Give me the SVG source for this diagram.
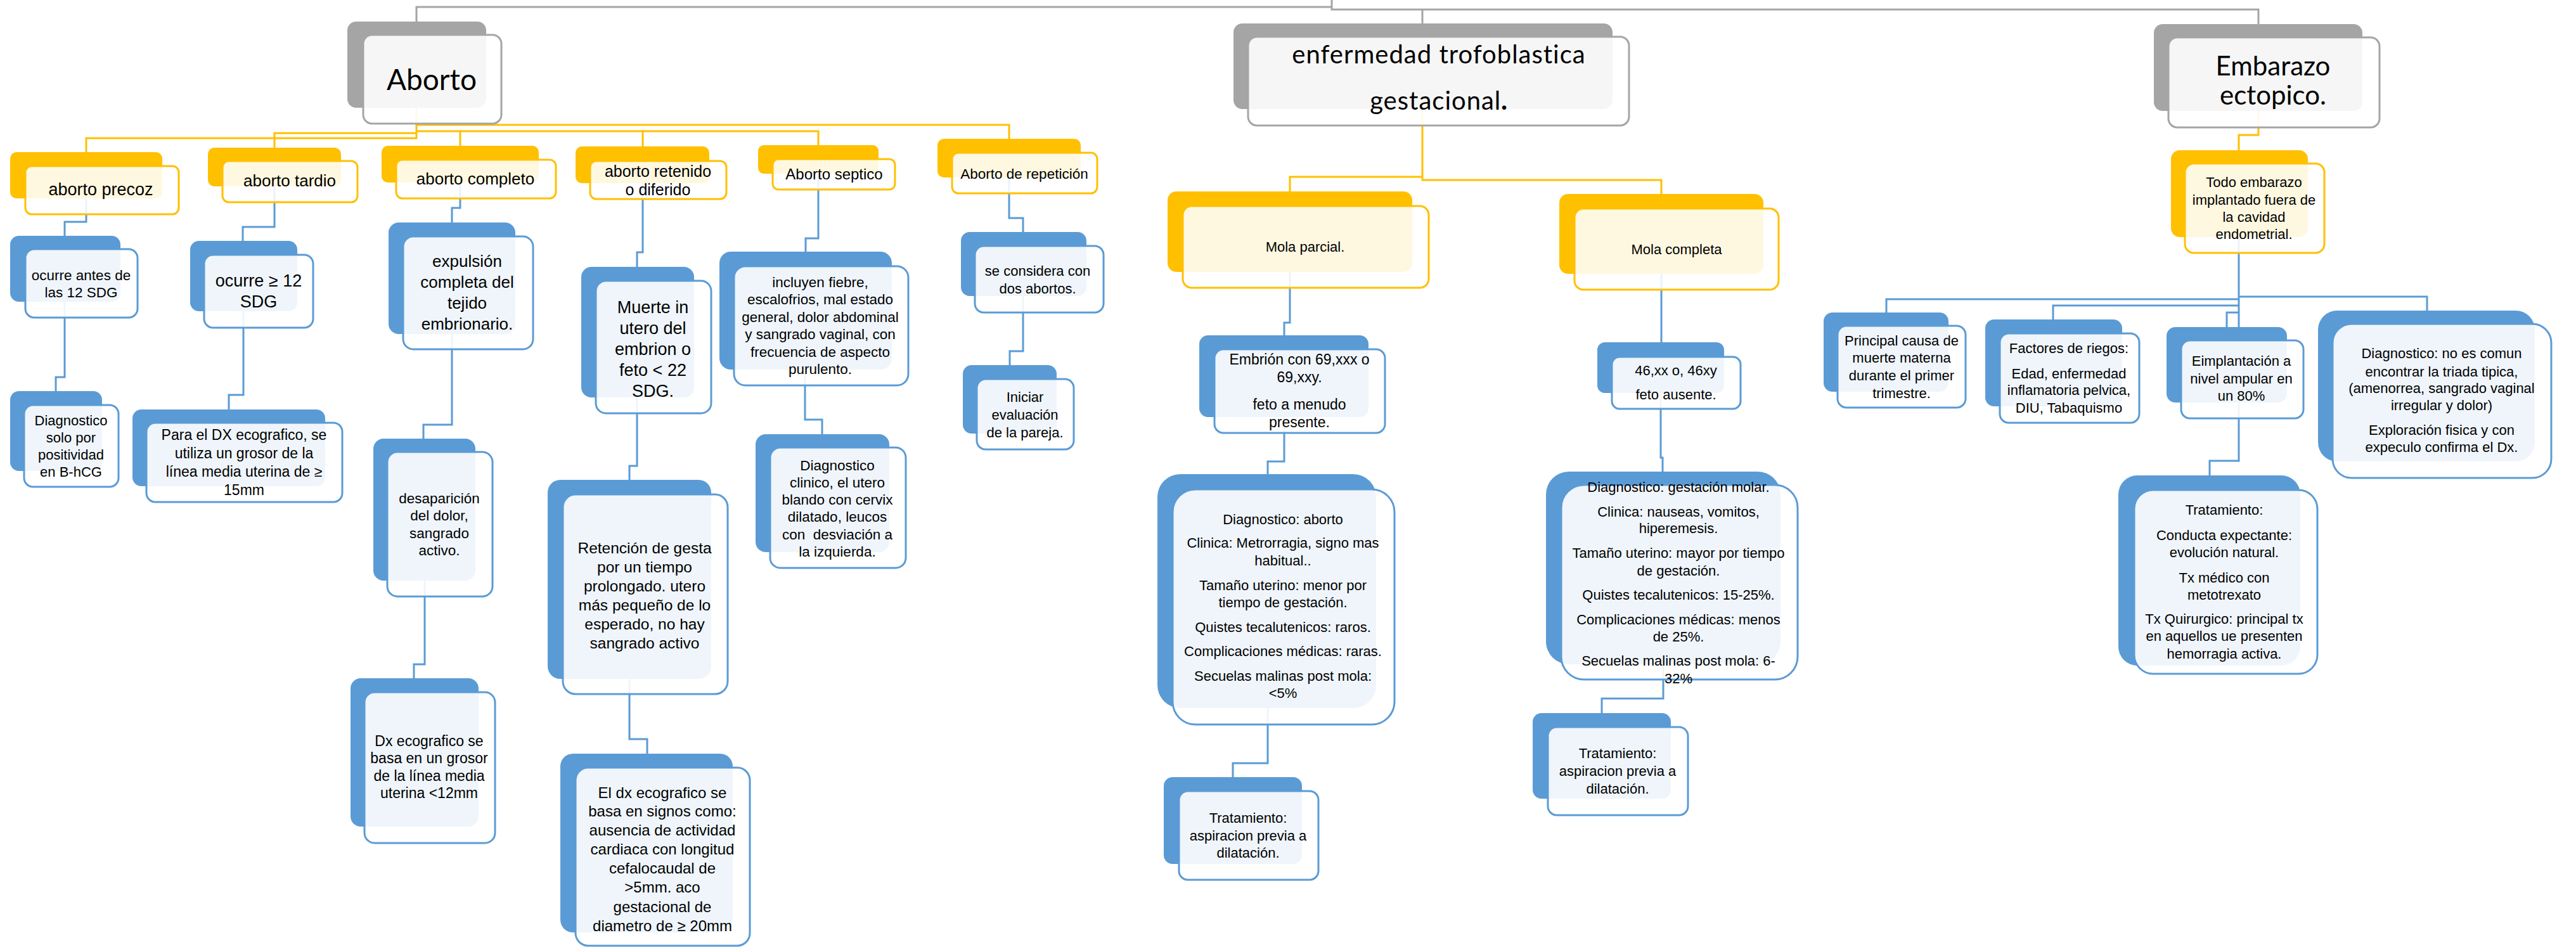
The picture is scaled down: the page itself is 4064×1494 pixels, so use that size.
<svg xmlns="http://www.w3.org/2000/svg" width="4064" height="1494" viewBox="0 0 4064 1494" font-size="22">
<style>
.gb{fill:#A5A5A5}
.gf{fill:#fff;fill-opacity:.9;stroke:#A5A5A5;stroke-width:3}
.yb{fill:#FFC000}
.yf{fill:#fff;fill-opacity:.88;stroke:#FFC000;stroke-width:3}
.bb{fill:#5B9BD5}
.bf{fill:#fff;fill-opacity:.9;stroke:#5B9BD5;stroke-width:3}
.c{fill:none;stroke-width:3}
.cg{stroke:#A5A5A5}
.cy{stroke:#FFC000}
.cb{stroke:#5B9BD5}
text{font-family:"Liberation Sans",Arial,sans-serif;text-anchor:middle;fill:#000}
.ti{font-family:Lato,"Open Sans",sans-serif}
</style>
<rect width="4064" height="1494" fill="#fff"/>
<g id="connectors">
<g class="c cg">
<path d="M2101,0 V15 H3563 V38"/>
<path d="M2244,15 V37"/>
<path d="M2101,11 H657 V34"/>
</g>
<g class="c cy">
<path d="M657,170 V218 H136 V240"/>
<path d="M657,210 H433 V233"/>
<path d="M657,207 H726 V230"/>
<path d="M726,207 H1014 V231"/>
<path d="M1014,207 H1291 V229"/>
<path d="M657,197 H1592 V219"/>
<path d="M2244,172 V284 H2621 V306"/>
<path d="M2244,279 H2035 V302"/>
<path d="M3563,175 V213 H3532 V237"/>
</g>
<g class="c cb">
<path d="M136,313 V350 H102 V372"/>
<path d="M102,476 V595 H88 V617"/>
<path d="M433,294 V358 H383 V380"/>
<path d="M384,491 V623 H361 V646"/>
<path d="M726,288 V328 H713 V351"/>
<path d="M713,527 V670 H668 V692"/>
<path d="M670,916 V1048 H653 V1070"/>
<path d="M1014,289 V398 H1005 V421"/>
<path d="M1005,627 V735 H993 V757"/>
<path d="M993,1071 V1166 H1021 V1189"/>
<path d="M1291,274 V376 H1271 V397"/>
<path d="M1270,583 V662 H1297 V685"/>
<path d="M1592,280 V344 H1614 V366"/>
<path d="M1614,467 V554 H1593 V576"/>
<path d="M2035,429 V509 H2026 V529"/>
<path d="M2026,658 V728 H2000 V748"/>
<path d="M2000,1117 V1204 H1945 V1226"/>
<path d="M2621,432 V540"/>
<path d="M2620,620 V722 H2623 V744"/>
<path d="M2624,1048 V1102 H2527 V1125"/>
<path d="M3532,374 V516"/>
<path d="M3532,472 H2976 V493"/>
<path d="M3532,482 H3239 V504"/>
<path d="M3532,493 H3513 V516"/>
<path d="M3532,468 H3829 V490"/>
<path d="M3532,635 V727 H3486 V750"/>
</g>
</g>

<g id="aborto">
<rect class="gb" x="548" y="34" width="219" height="136" rx="14"/>
<rect class="gf" x="573" y="55" width="218" height="140" rx="14"/>
<text class="ti" x="681" y="142" font-size="46">Aborto</text>
</g>
<g id="enfermedad">
<rect class="gb" x="1946" y="37" width="598" height="135" rx="14"/>
<rect class="gf" x="1969" y="58" width="601" height="140" rx="14"/>
<text class="ti" x="2270" y="100" font-size="40" letter-spacing="1">enfermedad trofoblastica</text>
<text class="ti" x="2270" y="173" font-size="40" letter-spacing="1">gestacional<tspan font-weight="900">.</tspan></text>
</g>
<g id="embarazo">
<rect class="gb" x="3398" y="38" width="329" height="137" rx="14"/>
<rect class="gf" x="3421" y="59" width="333" height="142" rx="14"/>
<text class="ti" x="3586" y="119" font-size="42">Embarazo</text>
<text class="ti" x="3586" y="165" font-size="42">ectopico.</text>
</g>

<g id="precoz">
<rect class="yb" x="16" y="240" width="240" height="73" rx="10"/>
<rect class="yf" x="40" y="262" width="242" height="76" rx="10"/>
<text x="159" y="308" font-size="27">aborto precoz</text>
</g>
<g id="tardio">
<rect class="yb" x="328" y="233" width="210" height="61" rx="10"/>
<rect class="yf" x="351" y="254" width="213" height="65" rx="10"/>
<text x="457" y="294" font-size="26">aborto tardio</text>
</g>
<g id="completo">
<rect class="yb" x="602" y="230" width="248" height="58" rx="10"/>
<rect class="yf" x="625" y="252" width="252" height="61" rx="10"/>
<text x="750" y="291" font-size="26">aborto completo</text>
</g>
<g id="retenido">
<rect class="yb" x="908" y="231" width="211" height="58" rx="10"/>
<rect class="yf" x="931" y="254" width="215" height="60" rx="10"/>
<text x="1038" y="279" font-size="25">aborto retenido</text>
<text x="1038" y="308" font-size="25">o diferido</text>
</g>
<g id="septico">
<rect class="yb" x="1196" y="229" width="190" height="45" rx="9"/>
<rect class="yf" x="1219" y="251" width="193" height="48" rx="9"/>
<text x="1316" y="283" font-size="24">Aborto septico</text>
</g>
<g id="repeticion">
<rect class="yb" x="1479" y="219" width="226" height="61" rx="10"/>
<rect class="yf" x="1502" y="241" width="229" height="64" rx="10"/>
<text x="1616" y="282" font-size="22.5">Aborto de repetición</text>
</g>
<g id="mola-parcial">
<rect class="yb" x="1842" y="302" width="386" height="127" rx="14"/>
<rect class="yf" x="1866" y="325" width="388" height="129" rx="14"/>
<text x="2059" y="397">Mola parcial.</text>
</g>
<g id="mola-completa">
<rect class="yb" x="2460" y="306" width="322" height="126" rx="14"/>
<rect class="yf" x="2484" y="329" width="322" height="128" rx="14"/>
<text x="2645" y="401">Mola completa</text>
</g>
<g id="todo-embarazo">
<rect class="yb" x="3425" y="237" width="216" height="137" rx="14"/>
<rect class="yf" x="3447" y="258" width="220" height="141" rx="14"/>
<text x="3556" y="295">Todo embarazo</text>
<text x="3556" y="323">implantado fuera de</text>
<text x="3556" y="350">la cavidad</text>
<text x="3556" y="377">endometrial.</text>
</g>

<g id="ocurre-antes">
<rect class="bb" x="16" y="372" width="174" height="104" rx="14"/>
<rect class="bf" x="40" y="393" width="177" height="108" rx="14"/>
<text x="128" y="442" font-size="22.5">ocurre antes de</text>
<text x="128" y="469" font-size="22.5">las 12 SDG</text>
</g>
<g id="diag-solo">
<rect class="bb" x="16" y="617" width="145" height="126" rx="14"/>
<rect class="bf" x="38" y="639" width="149" height="129" rx="14"/>
<text x="112" y="671">Diagnostico</text>
<text x="112" y="698">solo por</text>
<text x="112" y="725">positividad</text>
<text x="112" y="752">en B-hCG</text>
</g>
<g id="ocurre-12">
<rect class="bb" x="300" y="380" width="169" height="111" rx="14"/>
<rect class="bf" x="322" y="402" width="172" height="115" rx="14"/>
<text x="408" y="452" font-size="27">ocurre ≥ 12</text>
<text x="408" y="485" font-size="27">SDG</text>
</g>
<g id="para-dx">
<rect class="bb" x="209" y="646" width="304" height="121" rx="14"/>
<rect class="bf" x="231" y="667" width="309" height="125" rx="14"/>
<text x="385" y="694" font-size="23">Para el DX ecografico, se</text>
<text x="385" y="723" font-size="23">utiliza un grosor de la</text>
<text x="385" y="752" font-size="23">línea media uterina de ≥</text>
<text x="385" y="781" font-size="23">15mm</text>
</g>
<g id="expulsion">
<rect class="bb" x="613" y="351" width="200" height="176" rx="16"/>
<rect class="bf" x="636" y="373" width="205" height="178" rx="16"/>
<text x="737" y="421" font-size="26">expulsión</text>
<text x="737" y="454" font-size="26">completa del</text>
<text x="737" y="487" font-size="26">tejido</text>
<text x="737" y="520" font-size="26">embrionario.</text>
</g>
<g id="desaparicion">
<rect class="bb" x="589" y="692" width="161" height="224" rx="16"/>
<rect class="bf" x="611" y="713" width="166" height="228" rx="16"/>
<text x="693" y="794" font-size="22.5">desaparición</text>
<text x="693" y="821" font-size="22.5">del dolor,</text>
<text x="693" y="849" font-size="22.5">sangrado</text>
<text x="693" y="876" font-size="22.5">activo.</text>
</g>
<g id="dx-ecografico">
<rect class="bb" x="553" y="1070" width="202" height="234" rx="16"/>
<rect class="bf" x="575" y="1092" width="206" height="238" rx="16"/>
<text x="677" y="1177" font-size="23">Dx ecografico se</text>
<text x="677" y="1204" font-size="23">basa en un grosor</text>
<text x="677" y="1232" font-size="23">de la línea media</text>
<text x="677" y="1259" font-size="23">uterina &lt;12mm</text>
</g>
<g id="muerte">
<rect class="bb" x="917" y="421" width="178" height="206" rx="16"/>
<rect class="bf" x="940" y="443" width="182" height="209" rx="16"/>
<text x="1030" y="494" font-size="27">Muerte in</text>
<text x="1030" y="527" font-size="27">utero del</text>
<text x="1030" y="560" font-size="27">embrion o</text>
<text x="1030" y="593" font-size="27">feto &lt; 22</text>
<text x="1030" y="626" font-size="27">SDG.</text>
</g>
<g id="retencion">
<rect class="bb" x="864" y="757" width="258" height="314" rx="20"/>
<rect class="bf" x="888" y="780" width="260" height="315" rx="20"/>
<text x="1017" y="873" font-size="24.5">Retención de gesta</text>
<text x="1017" y="903" font-size="24.5">por un tiempo</text>
<text x="1017" y="933" font-size="24.5">prolongado. utero</text>
<text x="1017" y="963" font-size="24.5">más pequeño de lo</text>
<text x="1017" y="993" font-size="24.5">esperado, no hay</text>
<text x="1017" y="1023" font-size="24.5">sangrado activo</text>
</g>
<g id="el-dx">
<rect class="bb" x="884" y="1189" width="272" height="282" rx="20"/>
<rect class="bf" x="908" y="1211" width="275" height="281" rx="20"/>
<text x="1045" y="1259" font-size="24">El dx ecografico se</text>
<text x="1045" y="1288" font-size="24">basa en signos como:</text>
<text x="1045" y="1318" font-size="24">ausencia de actividad</text>
<text x="1045" y="1348" font-size="24">cardiaca con longitud</text>
<text x="1045" y="1378" font-size="24">cefalocaudal de</text>
<text x="1045" y="1408" font-size="24">&gt;5mm. aco</text>
<text x="1045" y="1439" font-size="24">gestacional de</text>
<text x="1045" y="1469" font-size="24">diametro de ≥ 20mm</text>
</g>
<g id="incluyen">
<rect class="bb" x="1135" y="397" width="272" height="186" rx="18"/>
<rect class="bf" x="1158" y="420" width="275" height="188" rx="18"/>
<text x="1294" y="453" font-size="22.5">incluyen fiebre,</text>
<text x="1294" y="480" font-size="22.5">escalofrios, mal estado</text>
<text x="1294" y="508" font-size="22.5">general, dolor abdominal</text>
<text x="1294" y="535" font-size="22.5">y sangrado vaginal, con</text>
<text x="1294" y="563" font-size="22.5">frecuencia de aspecto</text>
<text x="1294" y="590" font-size="22.5">purulento.</text>
</g>
<g id="diag-clinico">
<rect class="bb" x="1192" y="685" width="211" height="186" rx="16"/>
<rect class="bf" x="1215" y="706" width="214" height="190" rx="16"/>
<text x="1321" y="742" font-size="22.5">Diagnostico</text>
<text x="1321" y="769" font-size="22.5">clinico, el utero</text>
<text x="1321" y="796" font-size="22.5">blando con cervix</text>
<text x="1321" y="823" font-size="22.5">dilatado, leucos</text>
<text x="1321" y="851" font-size="22.5" xml:space="preserve">con  desviación a</text>
<text x="1321" y="878" font-size="22.5">la izquierda.</text>
</g>
<g id="se-considera">
<rect class="bb" x="1516" y="366" width="198" height="101" rx="14"/>
<rect class="bf" x="1538" y="388" width="203" height="105" rx="14"/>
<text x="1637" y="435">se considera con</text>
<text x="1637" y="463">dos abortos.</text>
</g>
<g id="iniciar">
<rect class="bb" x="1519" y="576" width="148" height="108" rx="14"/>
<rect class="bf" x="1541" y="598" width="153" height="111" rx="14"/>
<text x="1617" y="634">Iniciar</text>
<text x="1617" y="662">evaluación</text>
<text x="1617" y="690">de la pareja.</text>
</g>
<g id="embrion">
<rect class="bb" x="1892" y="529" width="267" height="129" rx="14"/>
<rect class="bf" x="1916" y="551" width="269" height="132" rx="14"/>
<text x="2050" y="575" font-size="23">Embrión con 69,xxx o</text>
<text x="2050" y="603" font-size="23">69,xxy.</text>
<text x="2050" y="646" font-size="23">feto a menudo</text>
<text x="2050" y="674" font-size="23">presente.</text>
</g>
<g id="diag-aborto">
<rect class="bb" x="1826" y="748" width="345" height="369" rx="36"/>
<rect class="bf" x="1850" y="772" width="350" height="371" rx="36"/>
<text x="2024" y="827">Diagnostico: aborto</text>
<text x="2024" y="864">Clinica: Metrorragia, signo mas</text>
<text x="2024" y="892">habitual..</text>
<text x="2024" y="931">Tamaño uterino: menor por</text>
<text x="2024" y="958">tiempo de gestación.</text>
<text x="2024" y="997">Quistes tecalutenicos: raros.</text>
<text x="2024" y="1035">Complicaciones médicas: raras.</text>
<text x="2024" y="1074">Secuelas malinas post mola:</text>
<text x="2024" y="1101">&lt;5%</text>
</g>
<g id="trat-parcial">
<rect class="bb" x="1836" y="1226" width="218" height="137" rx="14"/>
<rect class="bf" x="1860" y="1248" width="220" height="140" rx="14"/>
<text x="1969" y="1298">Tratamiento:</text>
<text x="1969" y="1326">aspiracion previa a</text>
<text x="1969" y="1353">dilatación.</text>
</g>
<g id="cariotipo-completa">
<rect class="bb" x="2520" y="540" width="200" height="80" rx="12"/>
<rect class="bf" x="2543" y="563" width="203" height="82" rx="12"/>
<text x="2644" y="592">46,xx o, 46xy</text>
<text x="2644" y="630">feto ausente.</text>
</g>
<g id="diag-molar">
<rect class="bb" x="2439" y="744" width="370" height="304" rx="36"/>
<rect class="bf" x="2463" y="765" width="373" height="307" rx="36"/>
<text x="2648" y="776">Diagnostico: gestación molar.</text>
<text x="2648" y="815">Clinica: nauseas, vomitos,</text>
<text x="2648" y="841">hiperemesis.</text>
<text x="2648" y="880">Tamaño uterino: mayor por tiempo</text>
<text x="2648" y="908">de gestación.</text>
<text x="2648" y="946">Quistes tecalutenicos: 15-25%.</text>
<text x="2648" y="985">Complicaciones médicas: menos</text>
<text x="2648" y="1012">de 25%.</text>
<text x="2648" y="1050">Secuelas malinas post mola: 6-</text>
<text x="2648" y="1078">32%</text>
</g>
<g id="trat-completa">
<rect class="bb" x="2418" y="1125" width="218" height="135" rx="14"/>
<rect class="bf" x="2442" y="1147" width="221" height="139" rx="14"/>
<text x="2552" y="1196">Tratamiento:</text>
<text x="2552" y="1224">aspiracion previa a</text>
<text x="2552" y="1252">dilatación.</text>
</g>
<g id="principal-causa">
<rect class="bb" x="2877" y="493" width="197" height="125" rx="14"/>
<rect class="bf" x="2899" y="514" width="202" height="129" rx="14"/>
<text x="3000" y="545">Principal causa de</text>
<text x="3000" y="572">muerte materna</text>
<text x="3000" y="600">durante el primer</text>
<text x="3000" y="628">trimestre.</text>
</g>
<g id="factores">
<rect class="bb" x="3132" y="504" width="216" height="137" rx="14"/>
<rect class="bf" x="3155" y="526" width="220" height="141" rx="14"/>
<text x="3264" y="557">Factores de riegos:</text>
<text x="3264" y="597">Edad, enfermedad</text>
<text x="3264" y="623">inflamatoria pelvica,</text>
<text x="3264" y="651">DIU, Tabaquismo</text>
</g>
<g id="implantacion">
<rect class="bb" x="3418" y="516" width="190" height="119" rx="14"/>
<rect class="bf" x="3441" y="537" width="193" height="123" rx="14"/>
<text x="3536" y="577">Eimplantación a</text>
<text x="3536" y="605">nivel ampular en</text>
<text x="3536" y="632">un 80%</text>
</g>
<g id="diag-ectopico">
<rect class="bb" x="3657" y="490" width="342" height="238" rx="30"/>
<rect class="bf" x="3680" y="511" width="345" height="243" rx="30"/>
<text x="3852" y="565">Diagnostico: no es comun</text>
<text x="3852" y="594">encontrar la triada tipica,</text>
<text x="3852" y="620">(amenorrea, sangrado vaginal</text>
<text x="3852" y="647">irregular y dolor)</text>
<text x="3852" y="686">Exploración fisica y con</text>
<text x="3852" y="713">expeculo confirma el Dx.</text>
</g>
<g id="trat-ectopico">
<rect class="bb" x="3342" y="750" width="287" height="300" rx="30"/>
<rect class="bf" x="3367" y="773" width="289" height="290" rx="30"/>
<text x="3509" y="812">Tratamiento:</text>
<text x="3509" y="852">Conducta expectante:</text>
<text x="3509" y="879">evolución natural.</text>
<text x="3509" y="919">Tx médico con</text>
<text x="3509" y="946">metotrexato</text>
<text x="3509" y="984">Tx Quirurgico: principal tx</text>
<text x="3509" y="1011">en aquellos ue presenten</text>
<text x="3509" y="1039">hemorragia activa.</text>
</g>
</svg>
